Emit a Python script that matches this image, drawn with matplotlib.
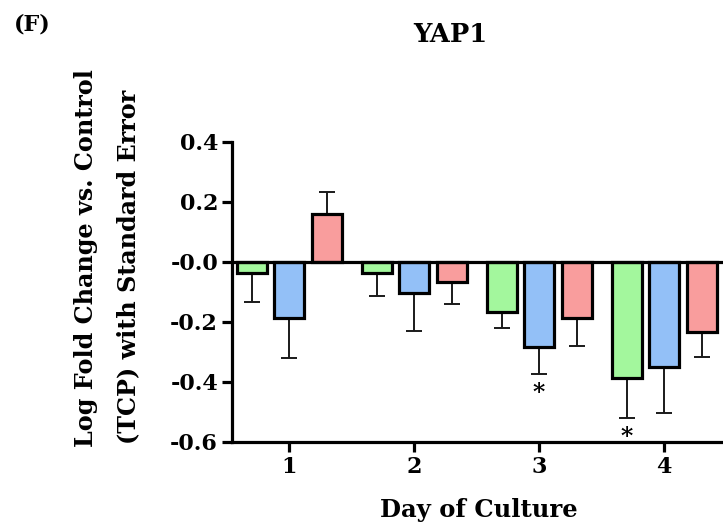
import matplotlib
matplotlib.use("Agg")
import matplotlib.pyplot as plt
import numpy as np

days = [1, 2, 3, 4]
day_labels = ["1", "2", "3", "4"]
green_vals = [-0.038, -0.038, -0.166, -0.388]
green_se = [0.094, 0.075, 0.053, 0.133]
blue_vals = [-0.188, -0.102, -0.282, -0.349]
blue_se = [0.131, 0.128, 0.092, 0.153]
red_vals = [0.160, -0.066, -0.186, -0.232]
red_se = [0.072, 0.074, 0.094, 0.084]
star_marks = [(3, "blue"), (4, "green")]

yticks = [-0.6, -0.4, -0.2, 0.0, 0.2, 0.4]
ytick_labels = ["-0.6", "-0.4", "-0.2", "-0.0", "0.2", "0.4"]

FONT = "DejaVu Serif"
plt.rcParams["font.family"] = FONT
plt.rcParams["font.weight"] = "bold"

fig = plt.figure(figsize=(7.23, 5.30), dpi=100)
ax = fig.add_axes([232 / 723, 88 / 530, 1 - 232 / 723, 300 / 530])

series = [
    ("green", green_vals, green_se, "#a3f79d", -0.3),
    ("blue", blue_vals, blue_se, "#93c0f7", 0.0),
    ("red", red_vals, red_se, "#f99d9d", 0.3),
]
x = np.array(days, dtype=float)
width = 0.24
pos = {}
for name, vals, se, color, off in series:
    vals = np.array(vals)
    se = np.array(se)
    xs = x + off
    pos[name] = (xs, vals, se)
    ax.bar(xs, vals, width=width, color=color, edgecolor="black", linewidth=2.3, zorder=3)
    lower = np.where(vals < 0, se, 0)
    upper = np.where(vals >= 0, se, 0)
    ax.errorbar(xs, vals, yerr=[lower, upper], fmt="none", ecolor="#1a1a1a",
                elinewidth=1.4, capsize=6, capthick=1.4, zorder=2)

for d, name in star_marks:
    xs, vals, se = pos[name]
    i = days.index(d)
    ax.text(xs[i], vals[i] - se[i] - 0.062, "*", ha="center", va="center",
            fontsize=17, fontweight="bold")

ax.axhline(0, color="black", linewidth=2.3, zorder=4)
ax.set_ylim(-0.6, 0.4)
ax.set_xlim(1 - 0.456, 1 + (723 - 289) / 125)
ax.set_yticks(yticks)
ax.set_yticklabels(ytick_labels)
ax.set_xticks(days)
ax.set_xticklabels(day_labels)
for s in ["top", "right"]:
    ax.spines[s].set_visible(False)
for s in ["left", "bottom"]:
    ax.spines[s].set_linewidth(2.3)
ax.tick_params(axis="both", width=2.3, length=7, labelsize=16, direction="out", pad=3)
for lab in ax.get_xticklabels() + ax.get_yticklabels():
    lab.set_fontweight("bold")

fig.text(450 / 723, 1 - 35 / 530, "YAP1", ha="center", va="center", fontsize=18.5, fontweight="bold")
fig.text(14 / 723, 1 - 25 / 530, "(F)", ha="left", va="center", fontsize=16, fontweight="bold")
fig.text(479 / 723, 1 - 510 / 530, "Day of Culture", ha="center", va="center", fontsize=17.5, fontweight="bold")
fig.text(86 / 723, 1 - 258 / 530, "Log Fold Change vs. Control", ha="center", va="center",
         rotation=90, fontsize=17.2, fontweight="bold")
fig.text(128 / 723, 1 - 267 / 530, "(TCP) with Standard Error", ha="center", va="center",
         rotation=90, fontsize=17.2, fontweight="bold")

fig.savefig("out.png", dpi=100)
